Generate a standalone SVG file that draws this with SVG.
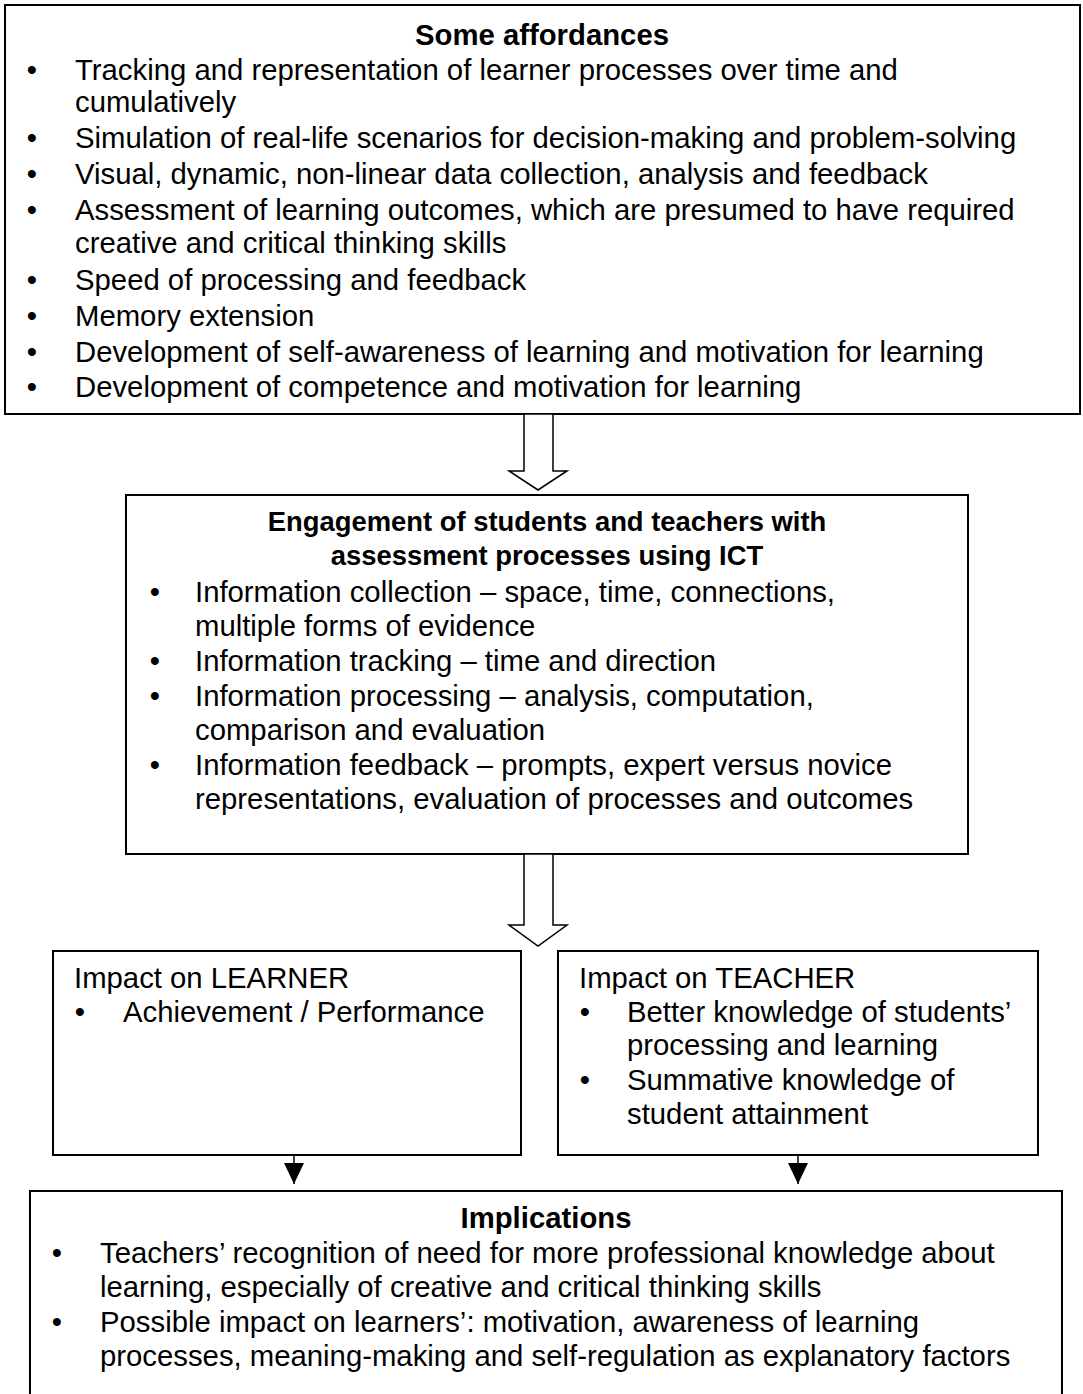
<svg xmlns="http://www.w3.org/2000/svg" width="1083" height="1394" viewBox="0 0 1083 1394">
<defs>
<style>
.box{fill:#fff;stroke:#000;stroke-width:2}
.t{font-family:"Liberation Sans",Arial,sans-serif;font-size:29.3px;fill:#000}
.b{font-weight:bold;text-anchor:middle}
.b2{font-size:27.4px}
.bu{text-anchor:middle}
.arr{fill:#fff;stroke:#000;stroke-width:1.5;stroke-linejoin:miter}
.con{stroke:#000;stroke-width:1.5;fill:none}
</style>
<marker id="ah" markerUnits="userSpaceOnUse" markerWidth="22" markerHeight="22" refX="21" refY="10" orient="auto" viewBox="0 0 22 20">
<path d="M0,0 L21,10 L0,20 z" fill="#000"/>
</marker>
</defs>
<rect width="1083" height="1394" fill="#fff"/>

<g id="affordances">
<rect class="box" x="5" y="5" width="1075" height="409"/>
<text class="t b" x="542" y="45">Some affordances</text>
<g class="t">
<text class="bu" x="32" y="80">•</text><text x="75" y="80">Tracking and representation of learner processes over time and</text>
<text x="75" y="112">cumulatively</text>
<text class="bu" x="32" y="148">•</text><text x="75" y="148">Simulation of real-life scenarios for decision-making and problem-solving</text>
<text class="bu" x="32" y="184">•</text><text x="75" y="184">Visual, dynamic, non-linear data collection, analysis and feedback</text>
<text class="bu" x="32" y="220">•</text><text x="75" y="220">Assessment of learning outcomes, which are presumed to have required</text>
<text x="75" y="253">creative and critical thinking skills</text>
<text class="bu" x="32" y="290">•</text><text x="75" y="290">Speed of processing and feedback</text>
<text class="bu" x="32" y="326">•</text><text x="75" y="326">Memory extension</text>
<text class="bu" x="32" y="362">•</text><text x="75" y="362">Development of self-awareness of learning and motivation for learning</text>
<text class="bu" x="32" y="397">•</text><text x="75" y="397">Development of competence and motivation for learning</text>
</g>
</g>

<g id="engagement">
<rect class="box" x="126" y="495" width="842" height="359"/>
<text class="t b b2" x="547" y="531">Engagement of students and teachers with</text>
<text class="t b b2" x="547" y="565">assessment processes using ICT</text>
<g class="t">
<text class="bu" x="155" y="602">•</text><text x="195" y="602">Information collection – space, time, connections,</text>
<text x="195" y="636">multiple forms of evidence</text>
<text class="bu" x="155" y="671">•</text><text x="195" y="671">Information tracking – time and direction</text>
<text class="bu" x="155" y="706">•</text><text x="195" y="706">Information processing – analysis, computation,</text>
<text x="195" y="740">comparison and evaluation</text>
<text class="bu" x="155" y="775">•</text><text x="195" y="775">Information feedback – prompts, expert versus novice</text>
<text x="195" y="809">representations, evaluation of processes and outcomes</text>
</g>
</g>

<g id="learner">
<rect class="box" x="53" y="951" width="468" height="204"/>
<g class="t">
<text x="74" y="988">Impact on LEARNER</text>
<text class="bu" x="80" y="1022">•</text><text x="123" y="1022">Achievement / Performance</text>
</g>
</g>

<g id="teacher">
<rect class="box" x="558" y="951" width="480" height="204"/>
<g class="t">
<text x="579" y="988">Impact on TEACHER</text>
<text class="bu" x="585" y="1022">•</text><text x="627" y="1022">Better knowledge of students’</text>
<text x="627" y="1055">processing and learning</text>
<text class="bu" x="585" y="1090">•</text><text x="627" y="1090">Summative knowledge of</text>
<text x="627" y="1124">student attainment</text>
</g>
</g>

<g id="implications">
<rect class="box" x="30" y="1191" width="1032" height="230"/>
<text class="t b" x="546" y="1228">Implications</text>
<g class="t">
<text class="bu" x="57" y="1263">•</text><text x="100" y="1263">Teachers’ recognition of need for more professional knowledge about</text>
<text x="100" y="1297">learning, especially of creative and critical thinking skills</text>
<text class="bu" x="57" y="1332">•</text><text x="100" y="1332">Possible impact on learners’: motivation, awareness of learning</text>
<text x="100" y="1366">processes, meaning-making and self-regulation as explanatory factors</text>
</g>
</g>

<g id="connectors">
<polygon class="arr" points="524,414 524,471 509,471 538,490 567,471 553,471 553,414"/>
<polygon class="arr" points="524,854 524,925 509,925 538,946 567,925 553,925 553,854"/>
<line class="con" x1="294" y1="1156" x2="294" y2="1184" marker-end="url(#ah)"/>
<line class="con" x1="798" y1="1156" x2="798" y2="1184" marker-end="url(#ah)"/>
</g>
</svg>
